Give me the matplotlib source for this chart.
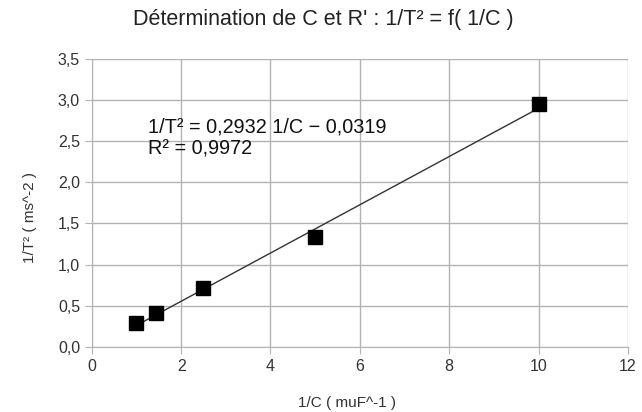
import matplotlib
matplotlib.use('Agg')
import matplotlib.pyplot as plt
from matplotlib.ticker import FuncFormatter, MultipleLocator
import numpy as np

plt.rcParams['font.family'] = ['Liberation Sans', 'DejaVu Sans']

# donnees
inv_C = [1.0, 1.4286, 2.5, 5.0, 10.0]
inv_T2 = [0.29, 0.41, 0.72, 1.34, 2.95]
pente = 0.2932
ordonnee = -0.0319
r2 = 0.9972

fig = plt.figure(figsize=(6.42, 4.12), dpi=100)
ax = fig.add_axes([0.143, 0.158, 0.835, 0.699])

gris = '#b3b3b3'
# droite de regression
xs = np.array([min(inv_C), max(inv_C)])
ax.plot(xs, pente * xs + ordonnee, color='#333333', lw=1.0, zorder=3)
ax.plot(inv_C, inv_T2, 's', color='black', markersize=10, zorder=4)

ax.set_xlim(0, 12)
ax.set_ylim(0, 3.5)
ax.xaxis.set_major_locator(MultipleLocator(2))
ax.yaxis.set_major_locator(MultipleLocator(0.5))
ax.yaxis.set_major_formatter(FuncFormatter(lambda v, p: f'{v:.1f}'.replace('.', ',')))
ax.xaxis.set_major_formatter(FuncFormatter(lambda v, p: f'{v:.0f}'))
ax.grid(True, color=gris, lw=1.0)
ax.set_axisbelow(True)
for s in ['top', 'right']:
    ax.spines[s].set_visible(False)
for s in ['left', 'bottom']:
    ax.spines[s].set_color(gris)
ax.tick_params(colors=gris, labelcolor='#333333', labelsize=11.5, length=5)

fig.text(0.503, 0.952, "Détermination de C et R' : 1/T² = f( 1/C )", fontsize=15.5,
         color='#222222', ha='center', va='center')
fig.text(0.54, 0.022, '1/C ( muF^-1 )', fontsize=11, color='#333333', ha='center', va='center')
fig.text(0.047, 0.473, '1/T² ( ms^-2 )', fontsize=11, color='#333333', ha='center',
         va='center', rotation=90)

ax.text(1.25, 2.67, '1/T² = 0,2932 1/C − 0,0319', fontsize=14.3, color='#111111', va='center')
ax.text(1.25, 2.41, 'R² = 0,9972', fontsize=14.3, color='#111111', va='center')

fig.savefig('out.png', dpi=100)
